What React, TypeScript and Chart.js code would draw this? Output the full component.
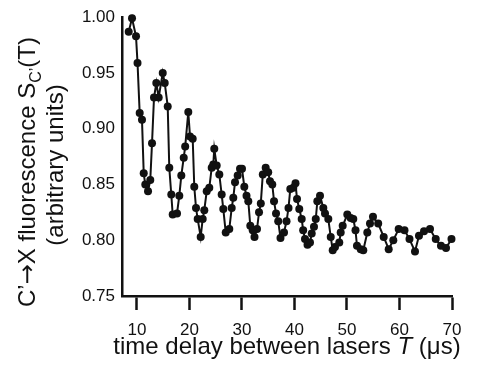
import React, { useEffect, useRef } from 'react';
import { Chart, registerables } from 'chart.js';

Chart.register(...registerables);

// ---- data ----
const timeDelay = [
  8.42, 9.05, 9.81, 10.1, 10.51, 10.95, 11.28, 11.58, 12.1, 12.53, 12.86, 13.24, 13.68, 14.13, 14.9,
  15.28, 15.85, 16.15, 16.53, 16.8, 17.62, 18.06, 18.44, 18.9, 19.18, 19.77, 20.1, 20.61, 20.91,
  21.24, 21.56, 22.13, 22.51, 22.82, 23.28, 23.77, 24.23, 24.53, 24.72, 25.18, 25.68, 26.13, 26.44,
  26.9, 27.58, 28.04, 28.34, 28.67, 29.18, 29.62, 30.0, 30.44, 30.86, 31.2, 31.58, 32.04, 32.38,
  32.86, 33.24, 33.58, 33.96, 34.51, 34.99, 35.33, 35.77, 36.1, 36.48, 36.9, 37.33, 38.0, 38.48,
  38.86, 39.2, 39.77, 40.19, 40.48, 40.91, 41.37, 41.65, 42.0, 42.48, 42.95, 43.28, 43.71, 44.05,
  44.35, 44.86, 45.49, 45.81, 46.44, 46.9, 47.28, 47.71, 48.53, 48.8, 49.18, 50.06, 50.7, 51.2,
  51.62, 51.9, 52.61, 53.1, 53.87, 54.38, 54.95, 55.94, 56.99, 57.94, 58.82, 59.84, 60.95, 61.9,
  62.95, 63.71, 64.67, 65.81, 66.9, 67.9, 68.86, 69.9,
];
const fluorescence = [
  0.987, 0.999, 0.983, 0.959, 0.914, 0.908, 0.86, 0.85, 0.844, 0.854, 0.887, 0.928, 0.941, 0.928, 0.95,
  0.941, 0.92, 0.865, 0.841, 0.823, 0.824, 0.84, 0.858, 0.874, 0.884, 0.915, 0.893, 0.891, 0.848,
  0.829, 0.819, 0.803, 0.819, 0.827, 0.844, 0.847, 0.865, 0.868, 0.882, 0.867, 0.859, 0.841, 0.828,
  0.807, 0.81, 0.829, 0.838, 0.852, 0.858, 0.864, 0.864, 0.848, 0.84, 0.835, 0.813, 0.809, 0.803,
  0.81, 0.825, 0.833, 0.859, 0.865, 0.861, 0.853, 0.85, 0.835, 0.824, 0.817, 0.802, 0.807, 0.817,
  0.829, 0.846, 0.847, 0.851, 0.837, 0.828, 0.819, 0.809, 0.801, 0.796, 0.798, 0.806, 0.812, 0.819,
  0.835, 0.84, 0.829, 0.824, 0.819, 0.803, 0.791, 0.794, 0.798, 0.807, 0.813, 0.823, 0.82, 0.819,
  0.809, 0.795, 0.792, 0.791, 0.807, 0.815, 0.821, 0.815, 0.803, 0.792, 0.8, 0.81, 0.809, 0.801,
  0.79, 0.804, 0.808, 0.81, 0.801, 0.795, 0.793, 0.801,
];
const xTickValues = [10, 20, 30, 40, 50, 60, 70];
const yTickValues = [0.75, 0.8, 0.85, 0.9, 0.95, 1.0];
const xMin = 7.143;
const xMax = 70;
const yMin = 0.75;
const yMax = 1.0;

type Run = { t: string; italic?: boolean; sub?: boolean; family?: string; scale?: number };

const xTitleRuns: Run[] = [
  { t: 'time delay between lasers ' },
  { t: 'T', italic: true },
  { t: ' (\u03bcs)' },
];
const yTitleLine1Runs: Run[] = [
  { t: 'C\u2019' },
  { t: '\u2192', family: '"DejaVu Sans", sans-serif', scale: 1.0 },
  { t: 'X fluorescence S' },
  { t: 'C\u2019', sub: true },
  { t: '(T)' },
];
const yTitleLine2Runs: Run[] = [{ t: '(arbitrary units)' }];

const FONT = '"Liberation Sans", Arial, Helvetica, sans-serif';
const INK = '#111111';

function drawRuns(ctx: CanvasRenderingContext2D, runs: Run[], size: number) {
  const fontFor = (r: Run) => {
    const s = r.sub ? Math.round(size * 0.68) : Math.round(size * (r.scale ?? 1));
    return `${r.italic ? 'italic ' : ''}${s}px ${r.family ?? FONT}`;
  };
  let total = 0;
  const widths = runs.map((r) => {
    ctx.font = fontFor(r);
    const w = ctx.measureText(r.t).width;
    total += w;
    return w;
  });
  let x = -total / 2;
  runs.forEach((r, i) => {
    ctx.font = fontFor(r);
    ctx.fillText(r.t, x, r.sub ? size * 0.25 : 0);
    x += widths[i];
  });
}

const titlePlugin = {
  id: 'customTitles',
  afterDraw(chart: any) {
    const ctx: CanvasRenderingContext2D = chart.ctx;
    const area = chart.chartArea;
    ctx.save();
    ctx.fillStyle = INK;
    ctx.textAlign = 'left';
    ctx.textBaseline = 'alphabetic';
    // x title
    ctx.save();
    ctx.translate((area.left + area.right) / 2, 354);
    drawRuns(ctx, xTitleRuns, 24);
    ctx.restore();
    // y title line 1
    ctx.save();
    ctx.translate(35, 172);
    ctx.rotate(-Math.PI / 2);
    drawRuns(ctx, yTitleLine1Runs, 24);
    ctx.restore();
    // y title line 2
    ctx.save();
    ctx.translate(63, 165);
    ctx.rotate(-Math.PI / 2);
    drawRuns(ctx, yTitleLine2Runs, 24);
    ctx.restore();
    ctx.restore();
  },
};

export default function App() {
  const canvasRef = useRef<HTMLCanvasElement | null>(null);

  useEffect(() => {
    if (!canvasRef.current) return;
    const points = timeDelay.map((x, i) => ({ x, y: fluorescence[i] }));
    const chart = new Chart(canvasRef.current, {
      type: 'line',
      data: {
        datasets: [
          {
            data: points,
            borderColor: INK,
            borderWidth: 2,
            pointRadius: 4,
            pointBackgroundColor: INK,
            pointBorderWidth: 0,
            tension: 0,
            clip: false as any,
          },
        ],
      },
      options: {
        animation: false,
        responsive: false,
        maintainAspectRatio: false,
        layout: { padding: { top: 15, right: 25, left: 0, bottom: 0 } },
        plugins: {
          legend: { display: false },
          tooltip: { enabled: false },
          title: { display: false },
        },
        scales: {
          x: {
            type: 'linear',
            min: xMin,
            max: xMax,
            afterBuildTicks: (s: any) => {
              s.ticks = xTickValues.map((v) => ({ value: v }));
            },
            afterFit: (s: any) => {
              s.height = 73;
            },
            grid: {
              display: true,
              drawOnChartArea: false,
              drawTicks: true,
              tickLength: 14,
              tickWidth: 2.5,
              tickColor: INK,
            },
            border: { display: true, color: INK, width: 2.5 },
            ticks: {
              font: { family: FONT, size: 17 },
              color: INK,
              padding: 10,
              maxRotation: 0,
              autoSkip: false,
              callback: (v: any) => String(v),
            },
          },
          y: {
            type: 'linear',
            min: yMin,
            max: yMax,
            afterBuildTicks: (s: any) => {
              s.ticks = yTickValues.map((v) => ({ value: v }));
            },
            afterFit: (s: any) => {
              s.width = 122;
            },
            grid: { display: true, drawOnChartArea: false, drawTicks: false },
            border: { display: true, color: INK, width: 2.5 },
            ticks: {
              font: { family: FONT, size: 17 },
              color: INK,
              padding: 7,
              autoSkip: false,
              callback: (v: any) => Number(v).toFixed(2),
            },
          },
        },
      },
      plugins: [titlePlugin],
    });
    return () => chart.destroy();
  }, []);

  return (
    <div style={{ position: 'absolute', left: 0, top: 0, width: 477, height: 369, background: '#fff' }}>
      <canvas ref={canvasRef} width={477} height={369} style={{ width: 477, height: 369, display: 'block' }} />
    </div>
  );
}
